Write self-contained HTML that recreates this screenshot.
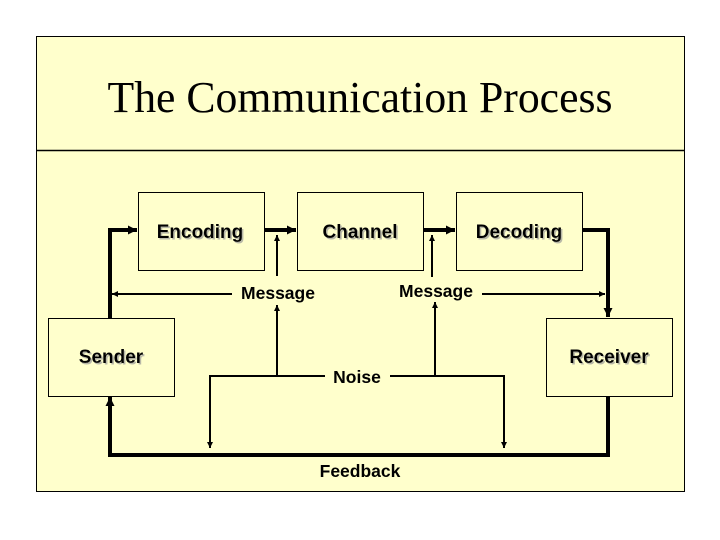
<!DOCTYPE html>
<html><head><meta charset="utf-8"><style>
html,body{margin:0;padding:0;background:#fff;}
svg{display:block;}
.t{font-family:"Liberation Sans",Arial,sans-serif;font-weight:bold;}
</style></head><body>
<svg width="720" height="540" viewBox="0 0 720 540" xmlns="http://www.w3.org/2000/svg">
<defs>
<marker id="a" viewBox="0 0 10 10" refX="10" refY="5" markerUnits="userSpaceOnUse" markerWidth="10" markerHeight="9" orient="auto"><path d="M0,0L10,5L0,10z" fill="#000"/></marker>
<marker id="b" viewBox="0 0 10 10" refX="10" refY="5" markerUnits="userSpaceOnUse" markerWidth="7" markerHeight="6" orient="auto"><path d="M0,0L10,5L0,10z" fill="#000"/></marker>
<filter id="s"><feDropShadow dx="1.5" dy="1.5" stdDeviation="0" flood-color="#b8b8a8"/></filter>
</defs>
<rect x="36.5" y="36.5" width="648" height="455" fill="#FFFFCC" stroke="#000" stroke-width="1"/>
<line x1="36" y1="150.5" x2="685" y2="150.5" stroke="#000" stroke-width="1.5"/>
<text x="360" y="112" text-anchor="middle" font-family="'Liberation Serif',serif" font-size="44" textLength="505" lengthAdjust="spacingAndGlyphs">The Communication Process</text>
<g fill="#FFFFCC" stroke="#000" stroke-width="1">
<rect x="138.5" y="192.5" width="126" height="78"/>
<rect x="297.5" y="192.5" width="126" height="78"/>
<rect x="456.5" y="192.5" width="126" height="78"/>
<rect x="48.5" y="318.5" width="126" height="78"/>
<rect x="546.5" y="318.5" width="126" height="78"/>
</g>
<g fill="none" stroke="#000" stroke-width="4">
<polyline points="110,318 110,230 137,230" marker-end="url(#a)"/>
<line x1="264" y1="230" x2="296" y2="230" marker-end="url(#a)"/>
<line x1="423" y1="230" x2="455" y2="230" marker-end="url(#a)"/>
<polyline points="582,230 608,230 608,317" marker-end="url(#a)"/>
<polyline points="608,396 608,455 110,455 110,397" marker-end="url(#a)"/>
</g>
<g fill="none" stroke="#000" stroke-width="2">
<line x1="232" y1="294" x2="112" y2="294" marker-end="url(#b)"/>
<line x1="277" y1="276" x2="277" y2="235" marker-end="url(#b)"/>
<polyline points="325,376 210,376 210,448" marker-end="url(#b)"/>
<line x1="277" y1="376" x2="277" y2="305" marker-end="url(#b)"/>
<polyline points="390,376 504,376 504,448" marker-end="url(#b)"/>
<line x1="435" y1="376" x2="435" y2="302" marker-end="url(#b)"/>
<line x1="432" y1="277" x2="432" y2="235" marker-end="url(#b)"/>
<line x1="482" y1="294" x2="605" y2="294" marker-end="url(#b)"/>
</g>
<g class="t" text-anchor="middle" font-size="19" filter="url(#s)">
<text x="200" y="238">Encoding</text>
<text x="360" y="238">Channel</text>
<text x="519" y="238">Decoding</text>
<text x="111" y="363">Sender</text>
<text x="609" y="363">Receiver</text>
</g>
<g class="t" text-anchor="middle" font-size="17.5">
<text x="278" y="299">Message</text>
<text x="436" y="297">Message</text>
<text x="357" y="383">Noise</text>
<text x="360" y="477">Feedback</text>
</g>
</svg>
</body></html>
